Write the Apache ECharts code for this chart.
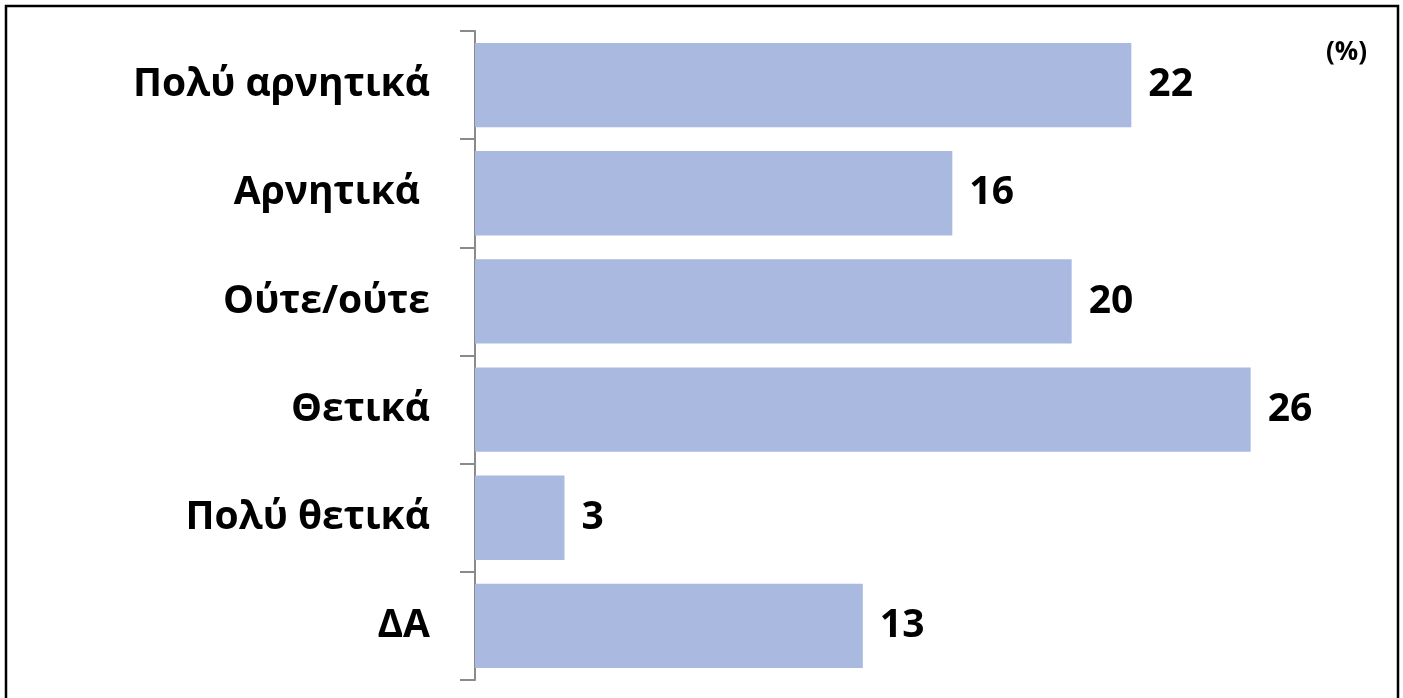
<!DOCTYPE html>
<html>
<head>
<meta charset="utf-8">
<script src="https://cdn.jsdelivr.net/npm/echarts@6/dist/echarts.min.js"></script>
<style>
html,body{margin:0;padding:0;background:#fff;}
#c{width:1403px;height:698px;}
</style>
</head>
<body>
<div id="c"></div>
<script>
const categories = ['Πολύ αρνητικά', 'Αρνητικά ', 'Ούτε/ούτε', 'Θετικά', 'Πολύ θετικά', 'ΔΑ'];
const values = [22, 16, 20, 26, 3, 13];
const unitLabel = '(%)';

const chart = echarts.init(document.getElementById('c'), null, {renderer: 'canvas'});
const font = '"Open Sans", "Noto Sans", sans-serif';
chart.setOption({
  animation: false,
  backgroundColor: '#ffffff',
  graphic: [
    {type: 'rect', shape: {x: 6, y: 6, width: 1392, height: 720}, style: {fill: 'none', stroke: '#000', lineWidth: 2.5}, z: 100},
    {type: 'text', left: 1326, top: 40, style: {text: unitLabel, font: 'bold 26px ' + font, fill: '#000'}}
  ],
  grid: {left: 475, right: 33, top: 31, bottom: 18, containLabel: false},
  xAxis: {
    type: 'value', min: 0, max: 30, show: false
  },
  yAxis: {
    type: 'category',
    data: categories,
    inverse: true,
    axisLine: {show: true, lineStyle: {color: '#8a8a8a', width: 2}},
    axisTick: {show: true, length: 15, lineStyle: {color: '#8a8a8a', width: 2}},
    axisLabel: {margin: 45, color: '#000', fontSize: 39, fontWeight: 'bold', fontFamily: font},
    splitLine: {show: false}
  },
  series: [{
    type: 'bar',
    data: values,
    barCategoryGap: '22%',
    itemStyle: {color: '#AAB9DF'},
    label: {show: true, position: 'right', distance: 17, color: '#000', fontSize: 39, fontWeight: 'bold', fontFamily: font}
  }]
});
</script>
</body>
</html>
